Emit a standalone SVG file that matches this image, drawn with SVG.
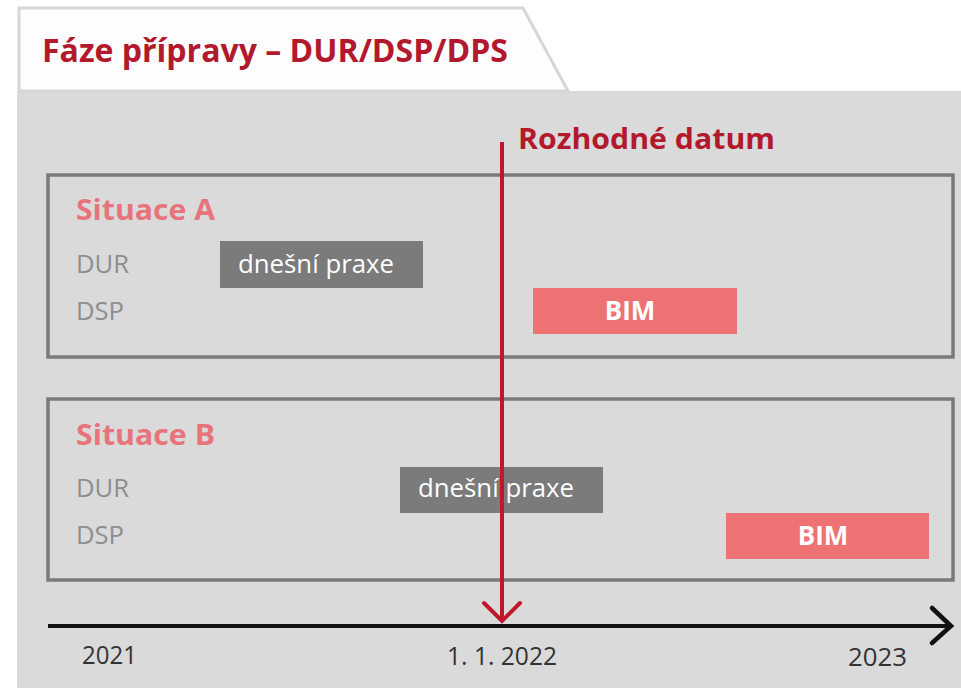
<svg xmlns="http://www.w3.org/2000/svg" width="961" height="688" viewBox="0 0 961 688">
<defs>
<style>
.t{font-family:"Open Sans","Liberation Sans",sans-serif}
.title{font-size:32px;font-weight:bold;fill:#b3192d}
.sit{font-size:28px;font-weight:bold;fill:#e8747b}
.lbl{font-size:25px;fill:#8e8e8e}
.bar{font-size:25px;fill:#ffffff}
.bim{font-size:26px;font-weight:bold;fill:#ffffff}
.ax{font-size:25px;fill:#333333}
.frame{fill:none;stroke:#7a7a7a;stroke-width:3.5}
.gray{fill:#7b7b7b}
.red{fill:#ee7274}
</style>
</defs>
<rect x="0" y="0" width="961" height="688" fill="#ffffff"/>
<rect x="17" y="91" width="944" height="597" fill="#dadada"/>
<g id="header">
<polygon points="19,8 523,8 568,91 19,91" fill="#fdfdfd" stroke="#d6d6d6" stroke-width="3"/>
<text class="t title" x="42" y="62" textLength="466" lengthAdjust="spacingAndGlyphs">Fáze přípravy – DUR/DSP/DPS</text>
</g>
<g id="situaceA">
<rect class="frame" x="48" y="175" width="905" height="182"/>
<text class="t sit" x="76" y="220" textLength="139" lengthAdjust="spacingAndGlyphs">Situace A</text>
<text class="t lbl" x="76" y="273" textLength="53" lengthAdjust="spacingAndGlyphs">DUR</text>
<text class="t lbl" x="76" y="320" textLength="48" lengthAdjust="spacingAndGlyphs">DSP</text>
</g>
<g id="barA-dur">
<rect class="gray" x="220" y="241" width="203" height="47"/>
<text class="t bar" x="238" y="273" textLength="156" lengthAdjust="spacingAndGlyphs">dnešní praxe</text>
</g>
<g id="barA-dsp">
<rect class="red" x="533" y="288" width="204" height="46"/>
<text class="t bim" x="630" y="320" text-anchor="middle">BIM</text>
</g>
<g id="situaceB">
<rect class="frame" x="48" y="399" width="905" height="181"/>
<text class="t sit" x="76" y="445" textLength="139" lengthAdjust="spacingAndGlyphs">Situace B</text>
<text class="t lbl" x="76" y="497" textLength="53" lengthAdjust="spacingAndGlyphs">DUR</text>
<text class="t lbl" x="76" y="544" textLength="48" lengthAdjust="spacingAndGlyphs">DSP</text>
</g>
<g id="barB-dur">
<rect class="gray" x="400" y="467" width="203" height="46"/>
<text class="t bar" x="418" y="497" textLength="156" lengthAdjust="spacingAndGlyphs">dnešní praxe</text>
</g>
<g id="barB-dsp">
<rect class="red" x="726" y="513" width="203" height="46"/>
<text class="t bim" x="823" y="545" text-anchor="middle">BIM</text>
</g>
<g id="axis-labels">
<text class="t ax" x="82" y="664" textLength="55" lengthAdjust="spacingAndGlyphs">2021</text>
<text class="t ax" x="447" y="665" textLength="110" lengthAdjust="spacingAndGlyphs">1. 1. 2022</text>
<text class="t ax" x="848" y="666" textLength="59" lengthAdjust="spacingAndGlyphs">2023</text>
</g>
<g id="connectors">
<line x1="48" y1="626" x2="951" y2="626" stroke="#111111" stroke-width="4"/>
<polyline points="932,608 951,626 932,643" fill="none" stroke="#111111" stroke-width="4.5" stroke-linecap="round" stroke-linejoin="miter"/>
<line x1="502" y1="142" x2="502" y2="621" stroke="#c0182b" stroke-width="4"/>
<polyline points="484,603 502,621 520,603" fill="none" stroke="#c0182b" stroke-width="4" stroke-linecap="round"/>
</g>
<g id="decision-label">
<text class="t title" x="518" y="149" font-size="29" textLength="257" lengthAdjust="spacingAndGlyphs" style="font-size:29px">Rozhodné datum</text>
</g>
</svg>
